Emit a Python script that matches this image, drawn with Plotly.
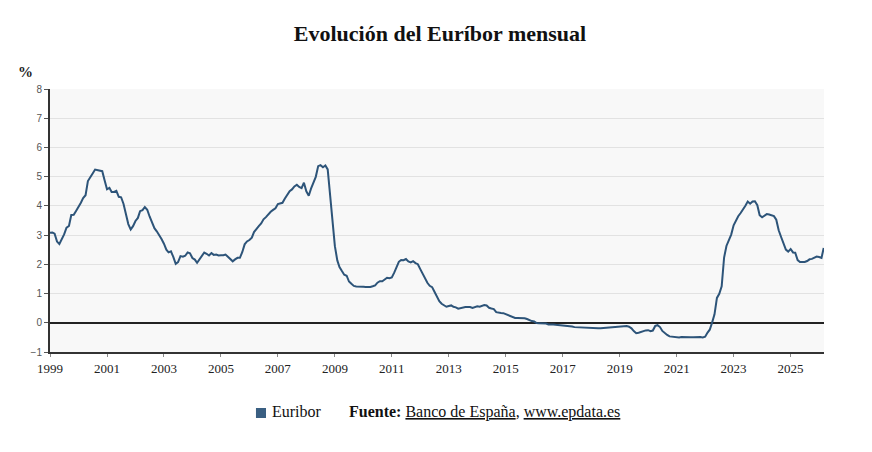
import plotly.graph_objects as go
import pandas as pd

start_month = "1999-01-01"
euribor = [
    # 1999
    3.078, 3.088, 3.051, 2.778, 2.694, 2.844, 3.025, 3.254, 3.314, 3.686, 3.693, 3.828,
    # 2000
    3.949, 4.111, 4.266, 4.365, 4.849, 4.959, 5.106, 5.243, 5.224, 5.220, 5.188, 4.880,
    # 2001
    4.569, 4.618, 4.474, 4.479, 4.517, 4.312, 4.295, 4.066, 3.717, 3.377, 3.195, 3.306,
    # 2002
    3.484, 3.589, 3.818, 3.856, 3.963, 3.869, 3.638, 3.445, 3.236, 3.130, 3.016, 2.869,
    # 2003
    2.706, 2.501, 2.411, 2.447, 2.252, 2.014, 2.078, 2.282, 2.261, 2.295, 2.410, 2.380,
    # 2004
    2.216, 2.163, 2.055, 2.163, 2.297, 2.404, 2.361, 2.302, 2.383, 2.323, 2.333, 2.301,
    # 2005
    2.312, 2.310, 2.335, 2.265, 2.193, 2.103, 2.168, 2.223, 2.222, 2.414, 2.684, 2.783,
    # 2006
    2.833, 2.914, 3.105, 3.221, 3.308, 3.401, 3.539, 3.615, 3.715, 3.799, 3.864, 3.921,
    # 2007
    4.064, 4.094, 4.106, 4.253, 4.373, 4.505, 4.564, 4.666, 4.725, 4.647, 4.607, 4.793,
    # 2008
    4.498, 4.349, 4.590, 4.820, 4.994, 5.361, 5.393, 5.323, 5.384, 5.248, 4.350, 3.452,
    # 2009
    2.622, 2.135, 1.909, 1.771, 1.644, 1.610, 1.412, 1.334, 1.261, 1.243, 1.231, 1.242,
    # 2010
    1.232, 1.225, 1.215, 1.225, 1.249, 1.281, 1.373, 1.421, 1.420, 1.495, 1.541, 1.526,
    # 2011
    1.550, 1.714, 1.924, 2.086, 2.147, 2.144, 2.183, 2.097, 2.067, 2.110, 2.044, 2.004,
    # 2012
    1.837, 1.678, 1.499, 1.368, 1.266, 1.219, 1.061, 0.877, 0.740, 0.650, 0.588, 0.549,
    # 2013
    0.575, 0.594, 0.545, 0.528, 0.484, 0.507, 0.525, 0.542, 0.543, 0.541, 0.506, 0.543,
    # 2014
    0.562, 0.549, 0.577, 0.604, 0.592, 0.513, 0.488, 0.469, 0.362, 0.338, 0.335, 0.329,
    # 2015
    0.298, 0.255, 0.212, 0.180, 0.165, 0.163, 0.167, 0.161, 0.154, 0.128, 0.079, 0.059,
    # 2016
    0.042, -0.008, -0.012, -0.010, -0.013, -0.028, -0.056, -0.048, -0.057, -0.069, -0.074, -0.080,
    # 2017
    -0.095, -0.106, -0.110, -0.119, -0.127, -0.149, -0.154, -0.156, -0.168, -0.180, -0.189, -0.190,
    # 2018
    -0.189, -0.191, -0.191, -0.190, -0.188, -0.181, -0.180, -0.169, -0.166, -0.154, -0.147, -0.129,
    # 2019
    -0.116, -0.108, -0.109, -0.112, -0.134, -0.190, -0.283, -0.356, -0.339, -0.304, -0.272, -0.261,
    # 2020
    -0.253, -0.288, -0.266, -0.108, -0.081, -0.147, -0.279, -0.359, -0.415, -0.466, -0.481, -0.497,
    # 2021
    -0.505, -0.501, -0.487, -0.484, -0.481, -0.484, -0.491, -0.498, -0.492, -0.477, -0.487, -0.502,
    # 2022
    -0.477, -0.335, -0.237, 0.013, 0.287, 0.852, 0.992, 1.249, 2.233, 2.629, 2.828, 3.018,
    # 2023
    3.337, 3.534, 3.647, 3.757, 3.862, 4.007, 4.149, 4.073, 4.149, 4.160, 4.022, 3.679,
    # 2024
    3.609, 3.671, 3.718, 3.703, 3.680, 3.650, 3.526, 3.166, 2.936, 2.691, 2.506, 2.436,
    # 2025
    2.525, 2.407, 2.398, 2.143, 2.081, 2.081, 2.079, 2.114, 2.172, 2.187, 2.217, 2.267,
    # 2026
    2.250, 2.220, 2.560,
]
dates = pd.date_range(start_month, periods=len(euribor), freq="MS")

y_ticks = [-1, 0, 1, 2, 3, 4, 5, 6, 7, 8]
x_tick_years = list(range(1999, 2027, 2))

line_color = "#2d5479"
legend_color = "#3a5f82"

fig = go.Figure()
fig.add_trace(go.Scatter(
    x=dates, y=euribor, mode="lines", name="Euribor",
    line=dict(color=line_color, width=2), showlegend=False,
    hovertemplate="%{x|%b %Y}: %{y:.3f}%<extra></extra>",
))

fig.update_layout(
    width=864, height=444,
    margin=dict(l=42, r=48, t=81, b=100),
    paper_bgcolor="white",
    plot_bgcolor="#f8f8f8",
    title=dict(
        text="<b>Evolución del Euríbor mensual</b>",
        x=0.5, xanchor="center", y=0.944, yanchor="middle",
        font=dict(family="Liberation Serif", size=22, color="#111"),
    ),
    xaxis=dict(
        type="date",
        range=[pd.Timestamp("1999-01-01"), pd.Timestamp("2026-03-05")],
        tickvals=[pd.Timestamp(f"{yr}-01-01") for yr in x_tick_years],
        ticktext=[str(yr) for yr in x_tick_years],
        showgrid=False,
        showline=True, linecolor="#333", linewidth=2,
        ticks="outside", ticklen=3, tickcolor="#888", tickwidth=1,
        tickfont=dict(family="Liberation Serif", size=13, color="#222"),
        zeroline=False,
    ),
    yaxis=dict(
        range=[-1, 8],
        tickvals=y_ticks,
        ticktext=["\u22121" if v < 0 else str(v) for v in y_ticks],
        showgrid=True, gridcolor="#e2e2e2", gridwidth=1,
        showline=True, linecolor="#333", linewidth=2,
        ticks="outside", ticklen=4, tickcolor="#555", tickwidth=1,
        tickfont=dict(family="Liberation Sans", size=10, color="#555"),
        zeroline=True, zerolinecolor="#222", zerolinewidth=2,
    ),
    shapes=[
        dict(type="rect", xref="paper", yref="paper",
             x0=0.2661, x1=0.2791, y0=-0.251, y1=-0.213,
             fillcolor=legend_color, line=dict(width=0)),
    ],
    annotations=[
        dict(text="<b>%</b>", xref="paper", yref="paper", x=-0.032, y=1.065,
             xanchor="center", yanchor="middle", showarrow=False,
             font=dict(family="Liberation Serif", size=15, color="#222")),
        dict(text="Euribor",
             xref="paper", yref="paper", x=0.2842, y=-0.228,
             xanchor="left", yanchor="middle", showarrow=False,
             font=dict(family="Liberation Serif", size=16, color="#111")),
        dict(text="<b>Fuente:</b> <u>Banco de España</u>, <u>www.epdata.es</u>",
             xref="paper", yref="paper", x=0.384, y=-0.228,
             xanchor="left", yanchor="middle", showarrow=False,
             font=dict(family="Liberation Serif", size=16, color="#111")),
    ],
)

fig.write_html("out.html")
